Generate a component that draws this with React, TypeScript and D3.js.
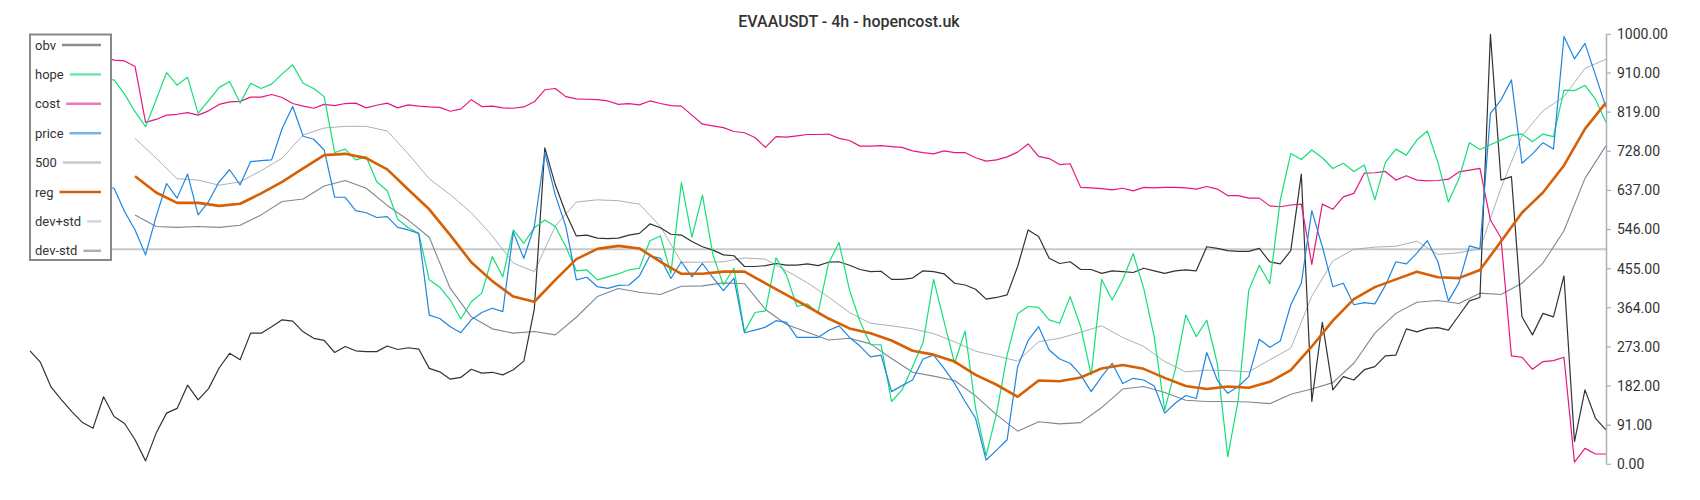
import React from 'react';
import * as d3 from 'd3';

const TITLE = 'EVAAUSDT - 4h - hopencost.uk';
const yTicks = [0, 91, 182, 273, 364, 455, 546, 637, 728, 819, 910, 1000];
const LAST_STEP = 150;

// obv: every step from 0
const obv = [
  264, 237, 180, 150, 122, 97, 84, 157, 111, 95, 57, 8, 72, 119, 130, 184, 150,
  176, 224, 258, 243, 305, 305, 320, 336, 333, 308, 293, 288, 260, 274, 264, 262, 262, 275, 267,
  271, 268, 223, 215, 198, 202, 221, 212, 214, 208, 220, 240, 361, 736, 650, 584, 531, 533, 526,
  525, 526, 533, 537, 559, 550, 535, 533, 518, 506, 498, 487, 485, 460, 460, 462, 467, 463, 463,
  466, 462, 470, 471, 463, 453, 448, 449, 430, 430, 433, 450, 448, 443, 421, 417, 407, 384, 388,
  394, 460, 545, 530, 479, 467, 471, 453, 453, 444, 450, 448, 446, 456, 450, 444, 450, 452, 450,
  506, 502, 497, 495, 495, 502, 471, 466, 497, 675, 146, 330, 173, 204, 196, 220, 227, 252, 254,
  315, 308, 316, 318, 312, 346, 380, 388, 1000, 661, 669, 343, 301, 351, 343, 438, 53, 173, 107, 80,
];

// hope / cost / price: every step from step 7
const mainStart = 7;
const hope = [
  895, 894, 861, 820, 785, 847, 911, 882, 900, 816,
  846, 876, 890, 840, 886, 874, 884, 908, 929, 886, 874, 855, 725, 733, 708, 715, 657, 636, 570,
  550, 537, 429, 412, 382, 338, 378, 398, 483, 436, 545, 514, 550, 568, 553, 506, 450, 452, 429,
  436, 443, 452, 456, 520, 531, 444, 655, 528, 626, 487, 417, 456, 308, 353, 357, 480, 440, 367,
  373, 351, 467, 516, 405, 332, 278, 278, 146, 173, 227, 283, 430, 332, 235, 310, 130, 20, 119,
  254, 350, 367, 365, 336, 328, 390, 320, 208, 430, 382, 429, 490, 409, 297, 126, 220, 347, 297,
  335, 235, 18, 150, 405, 463, 420, 615, 723, 709, 731, 713, 688, 700, 681, 696, 615, 702, 733,
  719, 754, 775, 702, 610, 664, 748, 732, 743, 754, 765, 768, 750, 768, 762, 870, 869, 881, 849, 795,
];
const cost = [
  948, 940, 938, 925, 795, 802, 812, 814, 818, 812,
  822, 837, 843, 844, 854, 854, 860, 853, 839, 833, 828, 837, 834, 839, 840, 829, 835, 840, 829,
  836, 833, 831, 830, 821, 826, 848, 832, 833, 829, 828, 831, 843, 871, 874, 855, 850, 849, 848,
  845, 837, 839, 836, 845, 839, 834, 833, 812, 791, 787, 783, 774, 771, 760, 737, 762, 761, 764,
  767, 767, 768, 758, 753, 740, 740, 741, 739, 737, 729, 725, 722, 729, 725, 725, 713, 705, 708,
  715, 726, 745, 716, 711, 697, 699, 644, 643, 641, 638, 642, 636, 644, 643, 644, 644, 643, 640,
  646, 640, 625, 625, 619, 619, 601, 599, 603, 605, 465, 605, 593, 622, 630, 677, 678, 681, 661,
  671, 661, 659, 660, 663, 680, 684, 688, 568, 527, 252, 249, 221, 239, 241, 249, 5, 37, 24, 24,
];
const price = [
  646, 642, 588, 545, 487, 576, 653, 619, 675, 580,
  611, 657, 685, 650, 704, 706, 708, 781, 832, 763, 756, 731, 621, 621, 590, 585, 574, 576, 551,
  545, 537, 347, 339, 320, 306, 336, 353, 363, 355, 540, 479, 553, 725, 626, 553, 429, 435, 413,
  409, 416, 417, 438, 485, 479, 432, 471, 436, 467, 434, 404, 433, 306, 312, 319, 334, 330, 295,
  295, 295, 311, 322, 295, 275, 250, 254, 169, 183, 196, 245, 254, 223, 188, 146, 107, 10, 33,
  57, 227, 288, 320, 266, 245, 235, 208, 169, 204, 235, 188, 200, 196, 182, 119, 142, 160, 153,
  260, 196, 165, 181, 204, 291, 272, 287, 371, 421, 590, 506, 413, 421, 371, 376, 373, 416, 471,
  466, 491, 520, 471, 380, 422, 508, 501, 816, 847, 894, 700, 722, 748, 733, 995, 943, 979, 905, 830,
];

// reg / dev bands: every 2nd step from step 10
const bandStart = 10;
const bandStride = 2;
const reg = [
  670, 632, 608, 608,
  601, 606, 630, 657, 688, 719, 722, 712, 686,
  639, 593, 533, 470, 426, 390, 378, 429, 477, 501,
  508, 502, 471, 443, 443, 448, 448, 421, 394,
  367, 339, 316, 305, 288, 264, 255, 239, 208, 185,
  157, 195, 193, 202, 223, 231, 222, 201, 182,
  175, 181, 178, 192, 219, 274, 334, 384, 412, 430,
  448, 435, 433, 452, 518, 585, 632, 695, 780, 841,
];
const devPlus = [
  758, 712, 664, 661,
  649, 657, 683, 712, 766, 782, 786, 786, 775,
  722, 664, 627, 585, 531, 468, 448, 554, 610, 615,
  613, 605, 553, 470, 470, 471, 480, 477, 450,
  422, 389, 353, 328, 322, 315, 304, 285, 263, 252,
  240, 285, 293, 307, 322, 295, 274, 239, 215,
  219, 218, 215, 243, 270, 391, 473, 500, 505, 507,
  519, 488, 492, 501, 642, 764, 822, 855, 921, 942,
];
const devMinus = [
  580, 553, 551, 553,
  551, 556, 580, 611, 617, 647, 660, 642, 602,
  568, 528, 409, 343, 315, 305, 309, 301, 342, 390,
  409, 400, 395, 414, 415, 422, 420, 360, 325,
  307, 289, 293, 280, 246, 214, 205, 195, 159, 115,
  77, 99, 94, 97, 132, 175, 181, 167, 149,
  146, 146, 145, 141, 163, 175, 190, 235, 305, 351,
  377, 381, 374, 398, 395, 421, 468, 543, 665, 741,
];
const level500 = 500;

type Series = {
  name: string;
  data: number[];
  start: number;
  stride: number;
  color: string;
  width: number;
  legendColor: string;
};

const series: Series[] = [
  { name: 'obv', data: obv, start: 0, stride: 1, color: '#333333', width: 1.2, legendColor: '#8c8c8c' },
  { name: 'hope', data: hope, start: mainStart, stride: 1, color: '#14df78', width: 1.2, legendColor: '#72e9aa' },
  { name: 'cost', data: cost, start: mainStart, stride: 1, color: '#e5177f', width: 1.2, legendColor: '#ef78b4' },
  { name: 'price', data: price, start: mainStart, stride: 1, color: '#1e86e2', width: 1.2, legendColor: '#72b3ec' },
  { name: '500', data: [level500, level500], start: 0, stride: LAST_STEP, color: '#c8c8c8', width: 2, legendColor: '#c8c8c8' },
  { name: 'reg', data: reg, start: bandStart, stride: bandStride, color: '#d75f04', width: 2.6, legendColor: '#d2600c' },
  { name: 'dev+std', data: devPlus, start: bandStart, stride: bandStride, color: '#a9b1b9', width: 1, legendColor: '#d2d6da' },
  { name: 'dev-std', data: devMinus, start: bandStart, stride: bandStride, color: '#7b8896', width: 1.1, legendColor: '#a9b1b9' },
];

const drawOrder = ['500', 'dev+std', 'dev-std', 'obv', 'cost', 'hope', 'price', 'reg'];

const FONT = 'Roboto, "Noto Sans", sans-serif';

function measure(text: string, size: number): number {
  const c = document.createElement('canvas').getContext('2d');
  if (!c) return text.length * size * 0.55;
  c.font = `${size}px Roboto`;
  return c.measureText(text).width;
}

export default function App() {
  const W = 1700;
  const H = 500;
  const x = d3.scaleLinear().domain([0, LAST_STEP]).range([30, 1606]);
  const y = d3.scaleLinear().domain([0, 1000]).range([464.3, 34.3]);
  const axisX = 1606.5;

  const paths = drawOrder.map((name) => {
    const s = series.find((d) => d.name === name)!;
    const gen = d3
      .line<number>()
      .x((_, i) => x(s.start + i * s.stride))
      .y((v) => y(v));
    return (
      <path
        key={name}
        d={gen(s.data) || ''}
        fill="none"
        stroke={s.color}
        strokeWidth={s.width}
        strokeLinejoin="round"
      />
    );
  });

  const legendX = 30;
  const legendY = 34.5;
  const legendW = 81;
  const legendH = 225.5;
  const legendRowY = (i: number) => 45 + i * 29.4;
  const legendLineEnd = 101;

  return (
    <svg
      width={W}
      height={H}
      style={{ position: 'absolute', left: 0, top: 0, background: '#fff' }}
      fontFamily={FONT}
    >
      <rect x={0} y={0} width={W} height={H} fill="#fff" />
      <text x={849} y={27} textAnchor="middle" fontSize={16} fontWeight={500} fill="#333">
        {TITLE}
      </text>
      <g>{paths}</g>
      {/* right axis */}
      <g>
        <line x1={axisX} x2={axisX} y1={y(1000)} y2={y(0)} stroke="#a7b0b9" strokeWidth={1.5} />
        {yTicks.map((t) => (
          <g key={t} transform={`translate(0,${y(t)})`}>
            <line x1={axisX} x2={axisX + 4.5} stroke="#a7b0b9" strokeWidth={1.2} />
            <text x={1617} dy="0.35em" fontSize={14} fill="#333">
              {t.toFixed(2)}
            </text>
          </g>
        ))}
      </g>
      {/* legend */}
      <g>
        <rect
          x={legendX}
          y={legendY}
          width={legendW}
          height={legendH}
          fill="#fff"
          stroke="#888"
          strokeWidth={2}
        />
        {series.map((s, i) => {
          const ty = legendRowY(i);
          const tw = measure(s.name, 13);
          return (
            <g key={s.name}>
              <text x={35} y={ty} dy="0.35em" fontSize={13} fill="#333">
                {s.name}
              </text>
              <line
                x1={35 + tw + 6}
                x2={legendLineEnd}
                y1={ty}
                y2={ty}
                stroke={s.legendColor}
                strokeWidth={2.5}
              />
            </g>
          );
        })}
      </g>
    </svg>
  );
}
